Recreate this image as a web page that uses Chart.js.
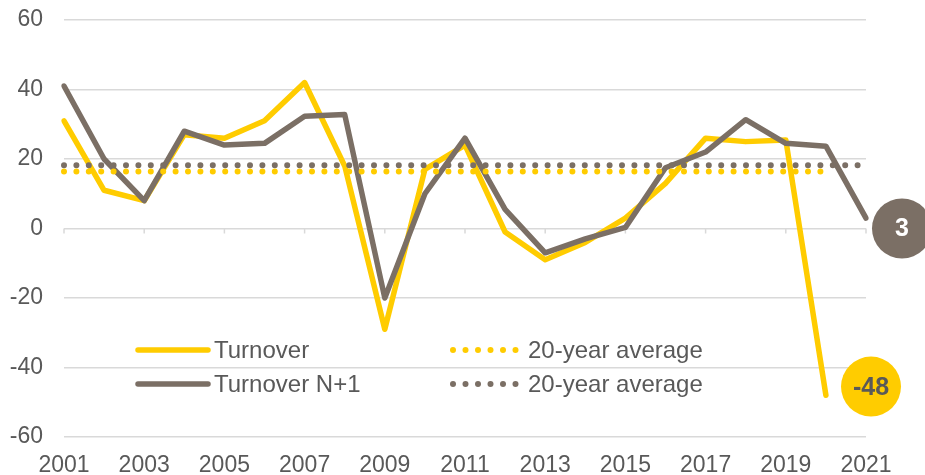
<!DOCTYPE html>
<html>
<head>
<meta charset="utf-8">
<script src="https://cdn.jsdelivr.net/npm/chart.js@4"></script>
<style>
  html, body { margin: 0; padding: 0; background: #fff; }
  #wrap { width: 925px; height: 475px; }
</style>
</head>
<body>
<div id="wrap"><canvas id="chart"></canvas></div>
<script>
// Anos do eixo X
const anos = ['2001','2002','2003','2004','2005','2006','2007','2008','2009','2010',
              '2011','2012','2013','2014','2015','2016','2017','2018','2019','2020','2021'];

// Séries
const turnover = [31, 11, 8, 27, 26, 31, 42, 18, -29, 17, 24, -1, -9, -4, 3, 13, 26, 25, 25.5, -48];
const turnoverN1 = [41, 20, 8, 28, 24, 24.5, 32.3, 32.8, -20, 10, 26, 5.5, -7, -3, 0.3, 17.5, 22, 31.3, 24.5, 23.7, 3];

// Médias de 20 anos (início e fim de cada linha pontilhada)
const mediaTurnover = [{ x: '2001', y: 16.4 }, { x: '2020', y: 16.4 }];
const mediaTurnoverN1 = [{ x: '2001', y: 18.2 }, { x: '2021', y: 18.2 }];

// Marcas do eixo Y
const ticksY = [-60, -40, -20, 0, 20, 40, 60];

const AMARELO = '#FFCC00';
const CINZA = '#7B6F65';
const TEXTO = '#595959';
const GRADE = '#d9d9d9';
const FONTE = '"Liberation Sans", Arial, sans-serif';

// Pequenos traços do eixo sobre a linha do zero (a cada 2 anos)
const tracosPlugin = {
    id: 'tracos',
    beforeDatasetsDraw(chart) {
        const ctx = chart.ctx;
        const x = chart.scales.x;
        const y0 = chart.scales.y.getPixelForValue(0);
        ctx.save();
        ctx.strokeStyle = GRADE;
        ctx.lineWidth = 1.5;
        anos.forEach((ano, i) => {
            if (i % 2 !== 0) return;
            const px = x.getPixelForValue(i);
            ctx.beginPath();
            ctx.moveTo(px, y0);
            ctx.lineTo(px, y0 + 5);
            ctx.stroke();
        });
        ctx.restore();
    }
};

// Legenda desenhada dentro da área do gráfico (2 x 2)
const legendaPlugin = {
    id: 'legenda',
    afterDatasetsDraw(chart) {
        const ctx = chart.ctx;
        const x = chart.scales.x;
        const y = chart.scales.y;
        const itens = [
            { texto: 'Turnover', cor: AMARELO, pontilhado: false, col: 0, lin: 0 },
            { texto: '20-year average', cor: AMARELO, pontilhado: true, col: 1, lin: 0 },
            { texto: 'Turnover N+1', cor: CINZA, pontilhado: false, col: 0, lin: 1 },
            { texto: '20-year average', cor: CINZA, pontilhado: true, col: 1, lin: 1 }
        ];
        const colX = [x.left + 74, x.left + 389];
        const linY = [y.top + 330, y.top + 364];
        ctx.save();
        itens.forEach(item => {
            const x0 = colX[item.col];
            const yy = linY[item.lin];
            ctx.strokeStyle = item.cor;
            ctx.fillStyle = item.cor;
            if (item.pontilhado) {
                for (let i = 0; i < 6; i++) {
                    ctx.beginPath();
                    ctx.arc(x0 + i * 12.5, yy, 3, 0, Math.PI * 2);
                    ctx.fill();
                }
            } else {
                ctx.lineWidth = 5.5;
                ctx.lineCap = 'round';
                ctx.beginPath();
                ctx.moveTo(x0, yy);
                ctx.lineTo(x0 + 70, yy);
                ctx.stroke();
            }
            ctx.fillStyle = TEXTO;
            ctx.font = '24px ' + FONTE;
            ctx.textBaseline = 'middle';
            ctx.textAlign = 'left';
            ctx.fillText(item.texto, x0 + (item.pontilhado ? 75 : 76), yy + 1);
        });
        ctx.restore();
    }
};

// Etiquetas redondas com o último valor de cada série
const etiquetasPlugin = {
    id: 'etiquetas',
    afterDraw(chart) {
        const ctx = chart.ctx;
        const x = chart.scales.x;
        const y = chart.scales.y;
        const ultimoN1 = turnoverN1[turnoverN1.length - 1];
        const ultimoT = turnover[turnover.length - 1];
        const badges = [
            { cx: x.right + 36, cy: y.getPixelForValue(0), cor: CINZA, texto: String(ultimoN1), corTexto: '#ffffff' },
            { cx: x.right + 5, cy: y.getPixelForValue(-45.5), cor: AMARELO, texto: String(ultimoT), corTexto: '#595959' }
        ];
        ctx.save();
        badges.forEach(b => {
            ctx.fillStyle = b.cor;
            ctx.beginPath();
            ctx.arc(b.cx, b.cy, 30, 0, Math.PI * 2);
            ctx.fill();
            ctx.fillStyle = b.corTexto;
            ctx.font = 'bold 25px ' + FONTE;
            ctx.textAlign = 'center';
            ctx.textBaseline = 'middle';
            ctx.fillText(b.texto, b.cx, b.cy + 1);
        });
        ctx.restore();
    }
};

const ctxLinha = document.getElementById('chart').getContext('2d');
const grafico = new Chart(ctxLinha, {
    type: 'line',
    data: {
        labels: anos,
        datasets: [
            {
                label: 'Turnover',
                data: turnover,
                borderColor: AMARELO,
                borderWidth: 5.5,
                borderJoinStyle: 'round',
                borderCapStyle: 'round',
                pointRadius: 0,
                tension: 0,
                order: 2
            },
            {
                label: 'Turnover N+1',
                data: turnoverN1,
                borderColor: CINZA,
                borderWidth: 5.5,
                borderJoinStyle: 'round',
                borderCapStyle: 'round',
                pointRadius: 0,
                tension: 0,
                order: 1
            },
            {
                label: '20-year average',
                data: mediaTurnover,
                borderColor: AMARELO,
                borderWidth: 6,
                borderDash: [0, 12.4],
                borderCapStyle: 'round',
                pointRadius: 0,
                order: 0
            },
            {
                label: '20-year average',
                data: mediaTurnoverN1,
                borderColor: CINZA,
                borderWidth: 6,
                borderDash: [0, 12.4],
                borderCapStyle: 'round',
                pointRadius: 0,
                order: 0
            }
        ]
    },
    options: {
        responsive: true,
        maintainAspectRatio: false,
        animation: false,
        layout: { padding: { top: 20, right: 59, left: 0, bottom: 0 } },
        plugins: {
            legend: { display: false },
            tooltip: { enabled: false }
        },
        scales: {
            x: {
                type: 'category',
                offset: false,
                grid: { display: false },
                border: { display: false },
                afterFit: (escala) => { escala.height = 38; escala.paddingLeft = 0; escala.paddingRight = 0; },
                ticks: {
                    autoSkip: false,
                    maxRotation: 0,
                    padding: 7,
                    color: TEXTO,
                    font: { family: FONTE, size: 23 },
                    callback: function(valor, indice) {
                        return indice % 2 === 0 ? this.getLabelForValue(valor) : '';
                    }
                }
            },
            y: {
                min: -60,
                max: 60,
                afterBuildTicks: (escala) => {
                    escala.ticks = ticksY.map(v => ({ value: v }));
                },
                afterFit: (escala) => { escala.width = 64; escala.paddingTop = 0; escala.paddingBottom = 0; },
                grid: { color: GRADE, lineWidth: 1.5, drawTicks: false },
                border: { display: false },
                ticks: {
                    padding: 21,
                    color: TEXTO,
                    font: { family: FONTE, size: 23 }
                }
            }
        }
    },
    plugins: [tracosPlugin, legendaPlugin, etiquetasPlugin]
});
</script>
</body>
</html>
